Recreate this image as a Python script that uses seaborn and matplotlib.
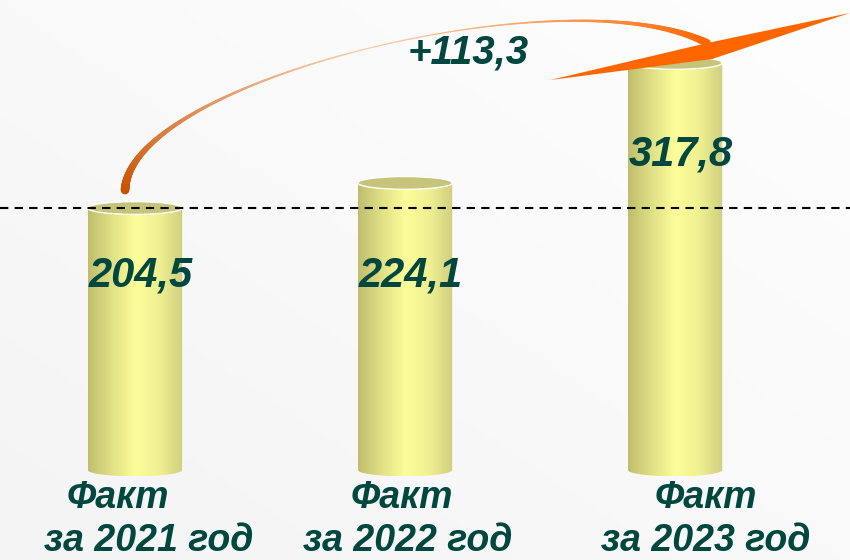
import numpy as np
import pandas as pd
import matplotlib.pyplot as plt
import seaborn as sns
from matplotlib.colors import LinearSegmentedColormap
from matplotlib.patches import Ellipse, Polygon
from matplotlib.collections import LineCollection

# Данные
line1 = ["Факт", "Факт", "Факт"]
line2 = ["за 2021 год", "за 2022 год", "за 2023 год"]
values = [204.5, 224.1, 317.8]
value_labels = ["204,5", "224,1", "317,8"]
growth_label = "+113,3"

df = pd.DataFrame({"period": line2, "value": values})

sns.set_theme(style="white")
plt.rcParams["font.family"] = ["Liberation Sans", "DejaVu Sans"]

TEAL = "#00473f"

fig = plt.figure(figsize=(8.5, 5.6), dpi=100)
fig.patch.set_facecolor("#f9f9f9")
ax = fig.add_axes([0, 0, 1, 1])
ax.set_facecolor("none")

# лёгкий фон-градиент
yy, xx = np.mgrid[0:1:100j, 0:1:100j]
bg = (xx + (1 - yy)) / 2
bg_cmap = LinearSegmentedColormap.from_list("bg", ["#f4f4f4", "#fefefe"])
ax.imshow(bg, cmap=bg_cmap, extent=[0, 1, 0, 1], transform=ax.transAxes,
          aspect="auto", zorder=0, origin="upper")

sns.barplot(data=df, x="period", y="value", color="#eeee90", width=0.35,
            saturation=1, ax=ax, zorder=1)

# цилиндры
cyl = LinearSegmentedColormap.from_list(
    "cyl", ["#c0be6e", "#e0e086", "#fdfd9a", "#f0f092", "#cfcf80"])
grad = np.linspace(0, 1, 256).reshape(1, -1)
e = 5.0
for bar in ax.patches:
    x0, w, h = bar.get_x(), bar.get_width(), bar.get_height()
    x1, xc = x0 + w, x0 + w / 2
    t = np.linspace(np.pi, 2 * np.pi, 60)
    arc = np.column_stack([xc + w / 2 * np.cos(t), e * np.sin(t)])
    verts = np.vstack([[x0, h], [x0, 0], arc, [x1, h]])
    clip = Polygon(verts, closed=True, facecolor="none", edgecolor="none")
    ax.add_patch(clip)
    im = ax.imshow(grad, cmap=cyl, extent=[x0, x1, -e, h], aspect="auto", zorder=2)
    im.set_clip_path(clip)
    ax.add_patch(Ellipse((xc, h), w, 2 * e, facecolor="#c6c47a",
                         edgecolor="white", lw=1.0, zorder=3))

# пунктир на уровне 2021 года
ax.axhline(values[0], color="black", lw=1.5, dashes=(4, 3), zorder=4)

# подписи значений
label_dx = [0.02, 0.02, 0.02]
label_y = [152, 152, 246]
for i, lab in enumerate(value_labels):
    ax.text(i + label_dx[i], label_y[i], lab, fontsize=30, fontweight="bold",
            fontstyle="italic", color=TEAL, ha="center", va="center", zorder=6)

# подписи категорий
dx1 = [-0.063, -0.011, 0.115]
dx2 = [0.052, 0.011, 0.115]
for i in range(len(values)):
    ax.text(i + dx1[i], -22, line1[i], fontsize=27, fontweight="bold",
            fontstyle="italic", color=TEAL, ha="center", va="center")
    ax.text(i + dx2[i], -55.5, line2[i], fontsize=27, fontweight="bold",
            fontstyle="italic", color=TEAL, ha="center", va="center")

# дуга-стрелка прироста
p0 = np.array([-0.037, values[0] + 14.0])
p1 = np.array([-0.019, values[0] + 100.0])
p2 = np.array([1.6, values[2] + 70.0])
p3 = np.array([2.119, values[2] + 15.5])
t = np.linspace(0, 1, 400)[:, None]
pts = (1 - t) ** 3 * p0 + 3 * (1 - t) ** 2 * t * p1 + 3 * (1 - t) * t ** 2 * p2 + t ** 3 * p3
segs = np.stack([pts[:-1], pts[1:]], axis=1)
tt = t[:-1, 0]
widths = (8 * (1 - tt) ** 4 + 7 * tt ** 6 + 0.7) / 1.389
ccmap = LinearSegmentedColormap.from_list(
    "arc", [(0, "#c85000"), (0.5, "#fad2b4"), (1, "#ff6600")])
lc = LineCollection(segs, colors=ccmap(tt), linewidths=widths,
                    capstyle="round", joinstyle="round", zorder=5)
ax.add_collection(lc)

head = np.array([
    [-0.463, -13.4],
    [0.137, 3.0],
    [0.648, 39.0],
    [0.119, 15.5],
]) + np.array([2, values[2]])
ax.add_patch(Polygon(head, closed=True, facecolor="#ff6600",
                     edgecolor="none", zorder=5))

ax.text(1.233, 326, growth_label, fontsize=29, fontweight="bold",
        fontstyle="italic", color=TEAL, ha="center", va="center", zorder=6)

ax.set_xlim(-0.5, 2.648)
ax.set_ylim(-70.3, 366.9)
ax.axis("off")

fig.savefig("out.png", dpi=100, facecolor=fig.get_facecolor())
